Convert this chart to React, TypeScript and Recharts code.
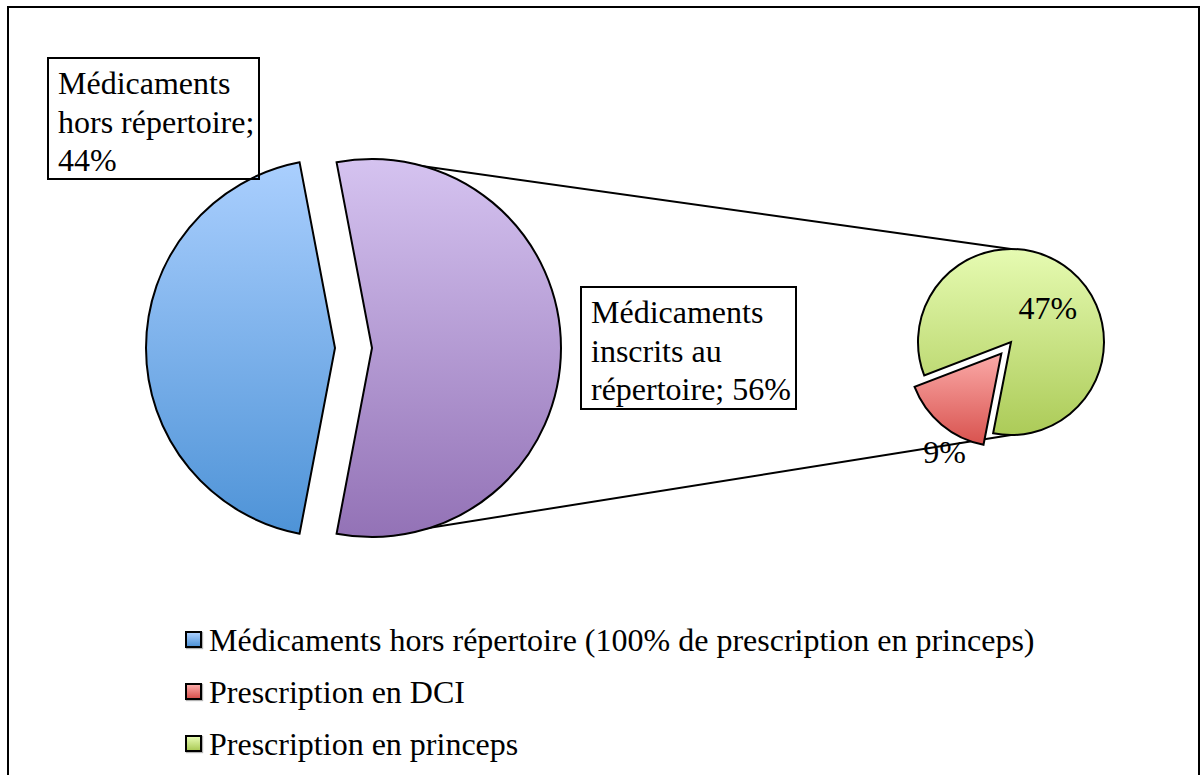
import React from 'react';
import { PieChart, Pie, Cell, Legend } from 'recharts';

// main pie: the two groups
const mainNames = ['Médicaments hors répertoire', 'Médicaments inscrits au répertoire'];
const mainValues = [44, 56];
const mainColors = ['blue', 'purple'];

// secondary pie: split of "inscrits au répertoire"
const subNames = ['Prescription en princeps', 'Prescription en DCI'];
const subValues = [47, 9];
const subColors = ['green', 'red'];

const legendNames = [
  'Médicaments hors répertoire (100% de prescription en princeps)',
  'Prescription en DCI',
  'Prescription en princeps',
];
const legendColors = ['blue', 'red', 'green'];

const gradients: Record<string, [string, string]> = {
  blue: ['#aacffe', '#4e93d7'],
  purple: ['#d5c3f0', '#9372b6'],
  green: ['#e6fbb2', '#accb58'],
  red: ['#fbaaa8', '#d8524e'],
};

const W = 1201;
const H = 775;
const FONT = '"Liberation Serif", "Times New Roman", serif';
const FS = 32;

// geometry
const MAIN = { cx: 353.5, cy: 348, r: 189, explode: [18.5, 18.5] };
const SUB = { cx: 1011, cy: 342, r: 93, explode: [0, 15], redMid: 230 };

const rad = (d: number) => (d * Math.PI) / 180;

function layout(values: number[], start: number) {
  const total = values.reduce((a, b) => a + b, 0);
  let a = start;
  return values.map((v) => {
    const s = a;
    const e = a + (v / total) * 360;
    a = e;
    return { s, e, mid: (s + e) / 2 };
  });
}

const mainTotal = mainValues.reduce((a, b) => a + b, 0);
const mainSlices = layout(mainValues, 180 - (mainValues[0] / mainTotal) * 180);
const subTotal = subValues.reduce((a, b) => a + b, 0);
const subSlices = layout(
  subValues,
  SUB.redMid - (subValues[1] / subTotal) * 180 - (subValues[0] / subTotal) * 360
);

const subLabelTweak = [
  { f: 0.54, da: -7 },
  { f: 1.22, da: 10 },
];

const offset = (cx: number, cy: number, d: number, ang: number) => ({
  x: cx + d * Math.cos(rad(ang)),
  y: cy - d * Math.sin(rad(ang)),
});

const LegendBox = () => (
  <div style={{ fontFamily: FONT, fontSize: FS, color: '#000' }}>
    {legendNames.map((n, i) => (
      <div key={n} style={{ display: 'flex', alignItems: 'center', height: 52 }}>
        <span
          style={{
            width: 13,
            height: 13,
            border: '2px solid #000',
            background: `linear-gradient(${gradients[legendColors[i]][0]}, ${gradients[legendColors[i]][1]})`,
            marginRight: 7,
            marginTop: -2,
            boxShadow: '1px 1px 1px rgba(0,0,0,0.3)',
          }}
        />
        <span style={{ whiteSpace: 'nowrap' }}>{n}</span>
      </div>
    ))}
  </div>
);

const boxStyle: React.CSSProperties = {
  position: 'absolute',
  border: '2px solid #000',
  boxSizing: 'border-box',
  fontFamily: FONT,
  fontSize: FS,
  lineHeight: '38.5px',
  color: '#000',
  paddingLeft: 9,
};

export default function App() {
  const purple = mainSlices[1];
  const pTop = offset(MAIN.cx, MAIN.cy, MAIN.explode[1], purple.mid);

  return (
    <div style={{ position: 'absolute', left: 0, top: 0, width: W, height: H, overflow: 'hidden', background: '#fff' }}>
      <div
        style={{
          position: 'absolute',
          left: 7,
          top: 6,
          width: 1193,
          height: 820,
          border: '2px solid #000',
          boxSizing: 'border-box',
        }}
      />
      {/* connector lines between the two pies */}
      <svg width={W} height={H} style={{ position: 'absolute', left: 0, top: 0 }}>
        <line x1={pTop.x} y1={MAIN.cy - MAIN.r} x2={SUB.cx} y2={SUB.cy - SUB.r} stroke="#000" strokeWidth={2} />
        <line x1={pTop.x} y1={MAIN.cy + MAIN.r} x2={SUB.cx} y2={SUB.cy + SUB.r} stroke="#000" strokeWidth={2} />
      </svg>
      <div style={{ position: 'absolute', left: 0, top: 0 }}>
        <PieChart width={W} height={H} margin={{ top: 0, right: 0, bottom: 0, left: 0 }}>
          <defs>
            {Object.entries(gradients).map(([k, [a, b]]) => (
              <linearGradient key={k} id={`g-${k}`} x1="0" y1="0" x2="0" y2="1">
                <stop offset="0%" stopColor={a} />
                <stop offset="100%" stopColor={b} />
              </linearGradient>
            ))}
          </defs>
          {mainSlices.map((sl, i) => {
            const c = offset(MAIN.cx, MAIN.cy, MAIN.explode[i], sl.mid);
            return (
              <Pie
                key={mainNames[i]}
                data={[{ name: mainNames[i], value: mainValues[i] }]}
                dataKey="value"
                cx={c.x}
                cy={c.y}
                outerRadius={MAIN.r}
                startAngle={sl.s}
                endAngle={sl.e}
                stroke="#000"
                strokeWidth={2}
                isAnimationActive={false}
              >
                <Cell fill={`url(#g-${mainColors[i]})`} />
              </Pie>
            );
          })}
          {subSlices.map((sl, i) => {
            const c = offset(SUB.cx, SUB.cy, SUB.explode[i], sl.mid);
            const tw = subLabelTweak[i];
            return (
              <Pie
                key={subNames[i]}
                data={[{ name: subNames[i], value: subValues[i] }]}
                dataKey="value"
                cx={c.x}
                cy={c.y}
                outerRadius={SUB.r}
                startAngle={sl.s}
                endAngle={sl.e}
                stroke="#000"
                strokeWidth={2}
                isAnimationActive={false}
                labelLine={false}
                label={(p: any) => {
                  const pos = offset(p.cx, p.cy, p.outerRadius * tw.f, p.midAngle + tw.da);
                  return (
                    <text
                      x={pos.x}
                      y={pos.y}
                      textAnchor="middle"
                      dominantBaseline="central"
                      fill="#000"
                      style={{ fontFamily: FONT, fontSize: FS }}
                    >
                      {`${p.value}%`}
                    </text>
                  );
                }}
              >
                <Cell fill={`url(#g-${subColors[i]})`} />
              </Pie>
            );
          })}
          <Legend
            content={() => <LegendBox />}
            wrapperStyle={{ position: 'absolute', left: 185, top: 614, width: 900, bottom: 'auto' }}
          />
        </PieChart>
      </div>
      <div style={{ ...boxStyle, left: 47, top: 57, width: 213, height: 123, paddingTop: 5 }}>
        {mainNames[0]}; {mainValues[0]}%
      </div>
      <div style={{ ...boxStyle, left: 580, top: 286, width: 217, height: 124, paddingTop: 5 }}>
        {mainNames[1]}; {mainValues[1]}%
      </div>
    </div>
  );
}
